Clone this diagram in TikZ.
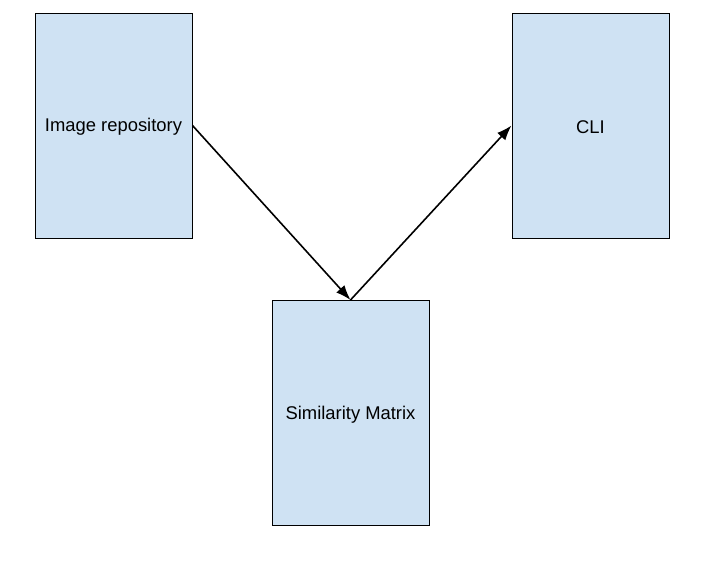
\documentclass[tikz,border=0pt]{standalone}
\usepackage{fontspec}
\setmainfont{Liberation Sans}
\usetikzlibrary{arrows.meta}
\definecolor{boxfill}{HTML}{CFE2F3}
\begin{document}
\begin{tikzpicture}[x=1pt,y=-1pt,
  blk/.style={draw=black,fill=boxfill,line width=1pt,minimum width=157pt,minimum height=225pt,inner sep=0pt},
  lbl/.style={yshift=-1.5pt,font=\fontsize{18.4}{22}\selectfont},
  conn/.style={line width=1.6pt,-{Latex[length=15pt,width=11pt]}}]
\useasboundingbox (0,0) rectangle (713,563);
\node[blk] (img) at (113.5,125.5) {};
\node[blk] (cli) at (590.5,125.5) {};
\node[blk] (sim) at (350.5,413) {};
\node[lbl] (imgt) at (img.center) {Image repository};
\node[lbl] (clit) at (cli.center) {CLI};
\node[lbl] (simt) at (sim.center) {Similarity Matrix};
\draw[conn] (img.east) -- (sim.north);
\draw[conn] (sim.north) -- (cli.west);
\end{tikzpicture}
\end{document}
